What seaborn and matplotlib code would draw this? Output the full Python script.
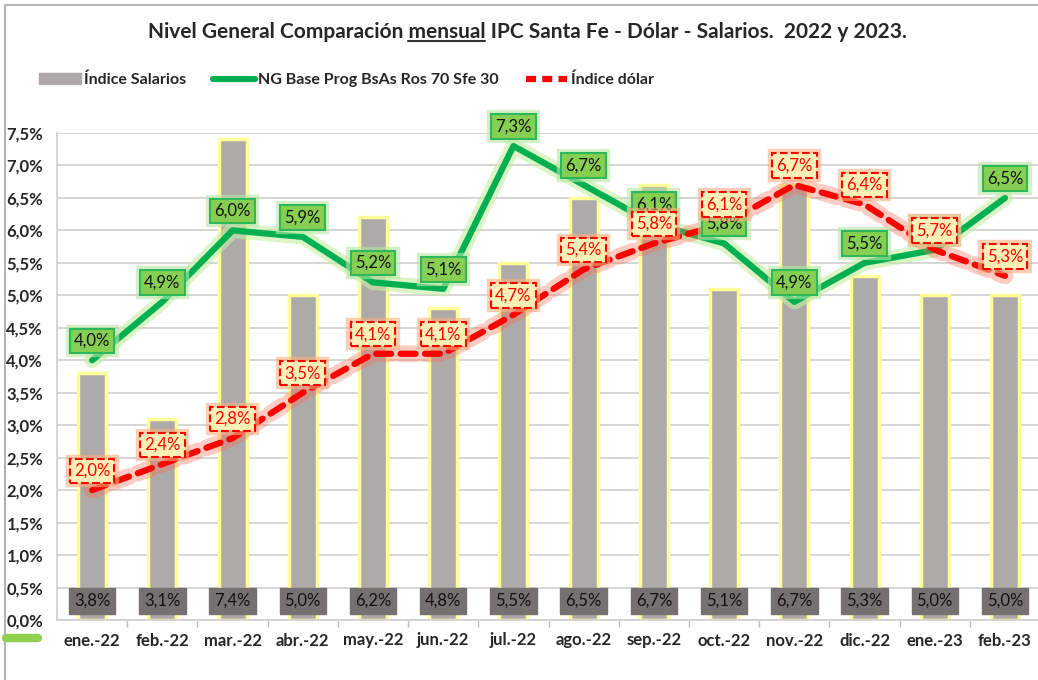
import pandas as pd
import numpy as np
import seaborn as sns
import matplotlib.pyplot as plt
import matplotlib.patheffects as pe
from matplotlib.lines import Line2D
from matplotlib.patches import Patch, Rectangle

# datos
meses = ['ene.-22', 'feb.-22', 'mar.-22', 'abr.-22', 'may.-22', 'jun.-22', 'jul.-22',
         'ago.-22', 'sep.-22', 'oct.-22', 'nov.-22', 'dic.-22', 'ene.-23', 'feb.-23']
salarios = [3.8, 3.1, 7.4, 5.0, 6.2, 4.8, 5.5, 6.5, 6.7, 5.1, 6.7, 5.3, 5.0, 5.0]
ipc_sfe = [4.0, 4.9, 6.0, 5.9, 5.2, 5.1, 7.3, 6.7, 6.1, 5.8, 4.9, 5.5, 5.7, 6.5]
dolar = [2.0, 2.4, 2.8, 3.5, 4.1, 4.1, 4.7, 5.4, 5.8, 6.1, 6.7, 6.4, 5.7, 5.3]

df = pd.DataFrame({'Mes': meses, 'Salarios': salarios, 'IPC': ipc_sfe, 'Dolar': dolar})

sns.set_theme(style='white')
plt.rcParams['font.family'] = ['Lato', 'DejaVu Sans']
plt.rcParams['font.weight'] = 'bold'

fig = plt.figure(figsize=(10.38, 6.8), dpi=100)
ax = fig.add_axes([57/1038, 60/680, 981/1038, 487/680])

def pct(v):
    return f'{v:.1f}%'.replace('.', ',')

# barras salarios
sns.barplot(data=df, x='Mes', y='Salarios', color='#AEAAAA', width=0.4, saturation=1,
            edgecolor='#FFFF99', linewidth=2.5, ax=ax, zorder=2)

# lineas
glow_g = [pe.Stroke(linewidth=11, foreground='#C6EFA0', alpha=0.6), pe.Normal()]
glow_r = [pe.Stroke(linewidth=12, foreground='#FF6A50', alpha=0.35), pe.Normal()]
sns.lineplot(data=df, x='Mes', y='IPC', color='#00B050', linewidth=4.5, sort=False,
             ax=ax, zorder=4, path_effects=glow_g)
sns.lineplot(data=df, x='Mes', y='Dolar', color='#FF0000', linewidth=4.5, sort=False,
             ax=ax, zorder=5, path_effects=glow_r)
ax.lines[-1].set_dashes((2.4, 1.5))
ax.lines[-1].set_dash_capstyle('round')

# etiquetas
for i, v in enumerate(salarios):
    ax.text(i, 0.3, pct(v), ha='center', va='center', fontsize=12, color='#111111',
            fontweight='normal', zorder=6,
            bbox=dict(boxstyle='square,pad=0.3', fc='#767171', ec='#767171'))

def etiqueta(i, v, color, fc, ec, glow, ls, z):
    # halo detras de la caja
    ax.annotate(pct(v), (i, v), xytext=(0, 14), textcoords='offset points', ha='center',
                va='center', fontsize=12, color='none', zorder=z,
                bbox=dict(boxstyle='square,pad=0.25', fc=glow, ec=glow, lw=6, alpha=0.6))
    ax.annotate(pct(v), (i, v), xytext=(0, 14), textcoords='offset points', ha='center',
                va='center', fontsize=12, color=color, fontweight='normal', zorder=z + 0.1,
                bbox=dict(boxstyle='square,pad=0.25', fc=fc, ec=ec, lw=1.5, ls=ls))

for i, v in enumerate(ipc_sfe):
    etiqueta(i, v, '#111111', '#86CF52', '#2EB85C', '#B9E6A4', '-', 6)
for i, v in enumerate(dolar):
    etiqueta(i, v, '#FF0000', '#FFF0B5', '#FF0000', '#FFB080', '--', 7)

# ejes
ax.set_ylim(0, 7.5)
ax.set_xlim(-0.5, 13.47)
ax.set_yticks(np.arange(0, 7.51, 0.5))
ax.set_yticklabels([pct(t) for t in np.arange(0, 7.51, 0.5)], fontsize=12)
ax.set_xticks(range(len(meses)))
ax.set_xticklabels(meses, fontsize=12)
ax.tick_params(axis='x', length=0, pad=9)
ax.tick_params(axis='y', length=0, pad=10)
ax.set_xticks(np.arange(0.5, 13.5, 1), minor=True)
ax.tick_params(axis='x', which='minor', length=5, color='#BFBFBF', direction='out', bottom=True)
ax.yaxis.grid(True, color='#D0D0D0', linewidth=1.2, zorder=0)
ax.set_axisbelow(True)
ax.set_xlabel('')
ax.set_ylabel('')
for s in ['top', 'right']:
    ax.spines[s].set_visible(False)
ax.spines['left'].set_color('#D0D0D0')
ax.spines['bottom'].set_color('#D0D0D0')

# titulo con "mensual" subrayado
titulo = 'Nivel General Comparación mensual IPC Santa Fe - Dólar - Salarios.  2022 y 2023.'
t = fig.text(527/1038, 1 - 32/680, titulo, ha='center', va='center', fontsize=15,
             fontweight='bold')
fig.canvas.draw()
r = fig.canvas.get_renderer()
bb = t.get_window_extent(r)
tmp1 = fig.text(0, 0, 'Nivel General Comparación ', fontsize=15, fontweight='bold')
tmp2 = fig.text(0, 0, 'Nivel General Comparación mensual', fontsize=15, fontweight='bold')
w1 = tmp1.get_window_extent(r).width
w2 = tmp2.get_window_extent(r).width
tmp1.remove()
tmp2.remove()
yline = bb.y0 + 1
fig.add_artist(Line2D([(bb.x0 + w1) / 1038, (bb.x0 + w2) / 1038], [yline / 680, yline / 680],
                      color='#333333', linewidth=1.5))

# leyenda
handles = [Patch(color='#AEAAAA'),
           Line2D([], [], color='#00B050', linewidth=4.5),
           Line2D([], [], color='#FF0000', linewidth=4.5, dashes=(1.6, 1.0))]
fig.legend(handles, ['Índice Salarios', 'NG Base Prog BsAs Ros 70 Sfe 30', 'Índice dólar'],
           loc='center left', bbox_to_anchor=(0.024, 1 - 80/680), ncol=3, frameon=False,
           fontsize=11.5, handlelength=2.6, handletextpad=0.2, columnspacing=1.7)

# marco y detalle
fig.add_artist(Rectangle((5/1038, -0.01), 1.05, 1 - 5/680 + 0.01, fill=False,
                         ec='#A6A6A6', lw=1.2, transform=fig.transFigure))
fig.add_artist(Line2D([6/1038, 38/1038], [1 - 638/680, 1 - 638/680], color='#92D050',
                      linewidth=6))

plt.savefig('out.png', dpi=100)
